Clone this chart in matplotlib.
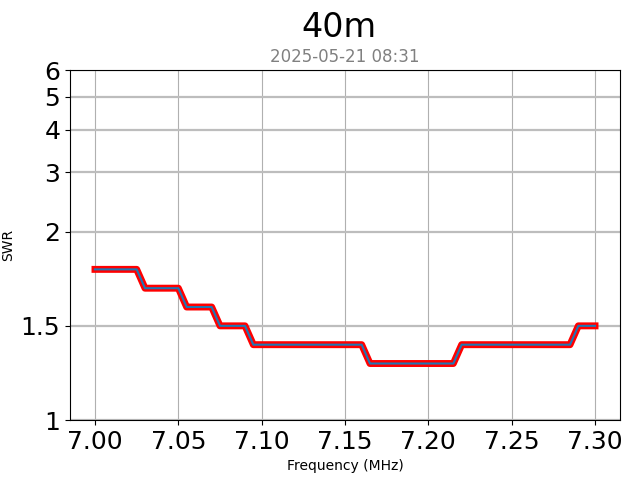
import matplotlib
matplotlib.use('Agg')
import matplotlib.pyplot as plt

# Sweep data: frequency (MHz) and measured SWR
freqs = [7.000, 7.005, 7.010, 7.015, 7.020, 7.025, 7.030, 7.035, 7.040, 7.045,
         7.050, 7.055, 7.060, 7.065, 7.070, 7.075, 7.080, 7.085, 7.090, 7.095,
         7.100, 7.105, 7.110, 7.115, 7.120, 7.125, 7.130, 7.135, 7.140, 7.145,
         7.150, 7.155, 7.160, 7.165, 7.170, 7.175, 7.180, 7.185, 7.190, 7.195,
         7.200, 7.205, 7.210, 7.215, 7.220, 7.225, 7.230, 7.235, 7.240, 7.245,
         7.250, 7.255, 7.260, 7.265, 7.270, 7.275, 7.280, 7.285, 7.290, 7.295,
         7.300]
swr = [1.8, 1.8, 1.8, 1.8, 1.8, 1.8, 1.7, 1.7, 1.7, 1.7,
       1.7, 1.6, 1.6, 1.6, 1.6, 1.5, 1.5, 1.5, 1.5, 1.4,
       1.4, 1.4, 1.4, 1.4, 1.4, 1.4, 1.4, 1.4, 1.4, 1.4,
       1.4, 1.4, 1.4, 1.3, 1.3, 1.3, 1.3, 1.3, 1.3, 1.3,
       1.3, 1.3, 1.3, 1.3, 1.4, 1.4, 1.4, 1.4, 1.4, 1.4,
       1.4, 1.4, 1.4, 1.4, 1.4, 1.4, 1.4, 1.4, 1.5, 1.5,
       1.5]

swr_ticks = [1, 1.5, 2, 3, 4, 5, 6]
swr_tick_labels = ['1', '1.5', '2', '3', '4', '5', '6']
band = '40m'
stamp = '2025-05-21 08:31'

fig, ax = plt.subplots(figsize=(6.4, 4.8), dpi=100)
fig.subplots_adjust(left=70/640, right=620/640, top=1-70/480, bottom=1-420/480)

ax.plot(freqs, swr, color='red', lw=5)
ax.plot(freqs, swr, color='tab:blue', lw=1.5)

ax.set_yscale('symlog', linthresh=2)
ax.set_ylim(1, 6)
ax.set_yticks(swr_ticks)
ax.set_yticklabels(swr_tick_labels)
ax.yaxis.set_minor_locator(matplotlib.ticker.NullLocator())
ax.set_xticks([7.00, 7.05, 7.10, 7.15, 7.20, 7.25, 7.30])
ax.tick_params(labelsize=18)

ax.grid(axis='x', color='#b0b0b0', lw=0.8)
ax.grid(axis='y', color='#bdbdbd', lw=1.6)
ax.set_axisbelow(True)

ax.set_xlabel('Frequency (MHz)')
ax.set_ylabel('SWR')

fig.text(339/640, 1-36.7/480, band, ha='center', va='baseline', fontsize=24)
fig.text(345/640, 1-62/480, stamp, ha='center', va='baseline', fontsize=12, color='grey')

plt.savefig('out.png')
